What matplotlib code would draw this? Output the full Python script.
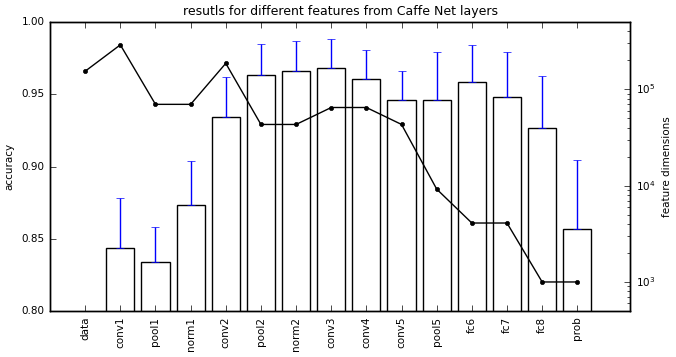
import numpy as np
import matplotlib
matplotlib.use('Agg')
import matplotlib.pyplot as plt

plt.style.use('classic')
plt.rcParams['font.size'] = 7.5
plt.rcParams['figure.facecolor'] = 'white'

# layers of the Caffe reference net
layers = ["data", "conv1", "pool1", "norm1", "conv2", "pool2", "norm2", "conv3",
          "conv4", "conv5", "pool5", "fc6", "fc7", "fc8", "prob"]

# mean accuracy per layer (data has no bar) and upper error
accuracy = [0.0, 0.8434, 0.8337, 0.8734, 0.934, 0.9635, 0.9659, 0.968,
            0.9603, 0.9462, 0.9462, 0.9583, 0.9483, 0.9264, 0.8567]
acc_err = [0.0, 0.0346, 0.0246, 0.0302, 0.0277, 0.0211, 0.0212, 0.020,
           0.0203, 0.0197, 0.0328, 0.0257, 0.0307, 0.0362, 0.0476]

# feature dimension of each layer
dims = [154587, 290400, 69984, 69984, 186624, 43264, 43264, 64896,
        64896, 43264, 9216, 4096, 4096, 1000, 1000]

x = np.arange(len(layers))

fig = plt.figure(figsize=(6.76, 3.57), dpi=100)
ax1 = fig.add_axes([0.074, 0.129, 0.858, 0.809])

ax1.bar(x, accuracy, width=0.8, align='center', color='white',
        edgecolor='black', linewidth=1)
ax1.errorbar(x[1:], accuracy[1:], yerr=[np.zeros(len(x) - 1), acc_err[1:]],
             fmt='none', ecolor='b', capsize=3, elinewidth=1)
ax1.set_ylim(0.80, 1.00)
ax1.set_xlim(-1, 15.5)
ax1.set_yticks([0.80, 0.85, 0.90, 0.95, 1.00])
ax1.set_xticks(x)
ax1.set_xticklabels(layers, rotation=90)
ax1.tick_params(labelsize=7.5)
ax1.set_ylabel("accuracy", fontsize=7.5)
ax1.set_title("resutls for different features from Caffe Net layers", fontsize=9)

ax2 = ax1.twinx()
ax2.plot(x, dims, color='black', marker='o', markersize=3, linewidth=1)
ax2.set_yscale('log')
ax2.set_ylim(500, 5e5)
ax2.set_xlim(-1, 15.5)
ax2.tick_params(labelsize=7.5)
ax2.set_ylabel("feature dimensions", fontsize=7.5)

fig.savefig("out.png", dpi=100, facecolor='white')
